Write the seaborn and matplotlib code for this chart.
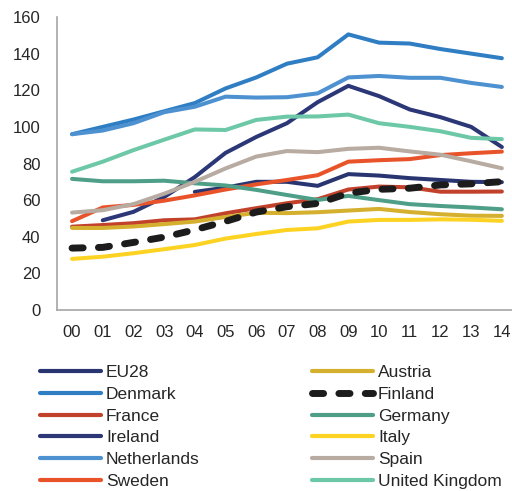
import numpy as np
import pandas as pd
import matplotlib
matplotlib.use("Agg")
import matplotlib.pyplot as plt
import seaborn as sns
from matplotlib.lines import Line2D

years = ["00", "01", "02", "03", "04", "05", "06", "07", "08", "09", "10", "11", "12", "13", "14"]

eu28 = [np.nan, np.nan, np.nan, np.nan, 64.5, 66.8, 70, 70, 67.8, 74.2, 73.4, 72, 71, 70, 69.8]
denmark = [96, 100, 104, 108.5, 113, 121, 127, 134.5, 138, 150.5, 146, 145.5, 142.5, 140, 137.5]
france = [45.5, 46.4, 47.4, 49, 49.5, 52.8, 55.6, 58.3, 60.5, 65.8, 67.4, 67, 64.6, 64.6, 64.7]
ireland = [np.nan, 49, 53.6, 61.7, 72.6, 85.8, 94.5, 102, 113.5, 122.4, 116.8, 109.5, 105.3, 100, 89]
netherlands = [96, 98, 102, 108, 111, 116.5, 116, 116.2, 118.3, 127, 127.8, 126.8, 126.8, 124, 121.8]
sweden = [48.5, 56, 57.4, 59.7, 62.6, 65.8, 68.6, 71, 73.6, 81, 81.8, 82.4, 84.6, 85.6, 86.5]
austria = [44.8, 44.8, 45.6, 46.9, 48.3, 50.8, 53.1, 52.9, 53.4, 54.3, 55.2, 53.5, 52.3, 51.5, 51.4]
finland = [33.8, 34.2, 36.9, 39.8, 43.8, 48.4, 53.5, 56.4, 58.2, 63.8, 65.9, 66.5, 68.3, 68.9, 70.1]
germany = [71.6, 70.3, 70.3, 70.6, 69.2, 68, 65.6, 62.8, 60.1, 62.3, 60, 57.8, 56.8, 56, 55]
italy = [27.9, 29.1, 31, 33.2, 35.5, 39, 41.5, 43.7, 44.6, 48.3, 49.2, 49.2, 49.5, 49.3, 48.7]
spain = [53.2, 54.5, 57.8, 63.5, 70, 77.3, 83.8, 86.8, 86.2, 88, 88.6, 86.6, 84.8, 81.2, 77.4]
uk = [75.5, 81, 87.3, 93, 98.6, 98.3, 103.8, 105.6, 105.7, 106.7, 102, 100, 97.6, 94, 93.3]

countries = ["EU28", "Denmark", "France", "Ireland", "Netherlands", "Sweden",
             "Austria", "Finland", "Germany", "Italy", "Spain", "United Kingdom"]
series = [eu28, denmark, france, ireland, netherlands, sweden,
          austria, finland, germany, italy, spain, uk]
colors = ["#283570", "#2F7EC4", "#C2412B", "#2B3776", "#4D91D1", "#E9532A",
          "#D4B02E", "#1C1C1C", "#4F9F88", "#FDD323", "#B8ABA2", "#6DC8A8"]

df = pd.DataFrame({"year": years})
for name, vals in zip(countries, series):
    df[name] = vals
long = df.melt(id_vars="year", var_name="country", value_name="value")
long["x"] = long["year"].map({y: i for i, y in enumerate(years)})

sns.set_style("white")
plt.rcParams["font.family"] = ["Liberation Sans", "DejaVu Sans"]

fig = plt.figure(figsize=(5.12, 4.91), dpi=100)
ax = fig.add_axes([57 / 512, 1 - 310 / 491, 1 - 57 / 512, (310 - 17) / 491])

FIN_DASH = (1.6, 2.2)

for name, col in zip(countries, colors):
    sub = long[long["country"] == name].dropna()
    is_fin = name == "Finland"
    sns.lineplot(data=sub, x="x", y="value", color=col, ax=ax,
                 lw=5.0 if is_fin else 2.9, zorder=4 if is_fin else 2,
                 solid_capstyle="round", dash_capstyle="round", legend=False)
    if is_fin:
        ax.lines[-1].set_dashes(FIN_DASH)

ax.set_xlim(-0.49, 14.33)
ax.set_ylim(0, 160)
ax.set_xticks(range(len(years)))
ax.set_xticklabels(years)
ax.set_yticks(range(0, 161, 20))
ax.set_xlabel("")
ax.set_ylabel("")
ax.tick_params(axis="both", length=0, labelsize=12, colors="#262626")
ax.tick_params(axis="x", pad=11)
ax.tick_params(axis="y", pad=12)
for side in ["top", "right"]:
    ax.spines[side].set_visible(False)
for side in ["left", "bottom"]:
    ax.spines[side].set_color("#A6A6A6")
    ax.spines[side].set_linewidth(1.2)


def proxy(name, col):
    if name == "Finland":
        return Line2D([], [], color=col, lw=5.0, dashes=FIN_DASH,
                      dash_capstyle="round")
    return Line2D([], [], color=col, lw=3.0, solid_capstyle="round")


legend_kw = dict(frameon=False, fontsize=12.5, handlelength=3.5, handletextpad=0.3,
                 labelspacing=0.38, borderpad=0, borderaxespad=0, loc="upper left",
                 labelcolor="#262626")
col1 = countries[:6]
col2 = countries[6:]
leg1 = fig.legend([proxy(n, colors[countries.index(n)]) for n in col1], col1,
                  bbox_to_anchor=(40 / 512, 1 - 365 / 491), **legend_kw)
leg2 = fig.legend([proxy(n, colors[countries.index(n)]) for n in col2], col2,
                  bbox_to_anchor=(312 / 512, 1 - 365 / 491), **legend_kw)

fig.savefig("out.png", dpi=100)
